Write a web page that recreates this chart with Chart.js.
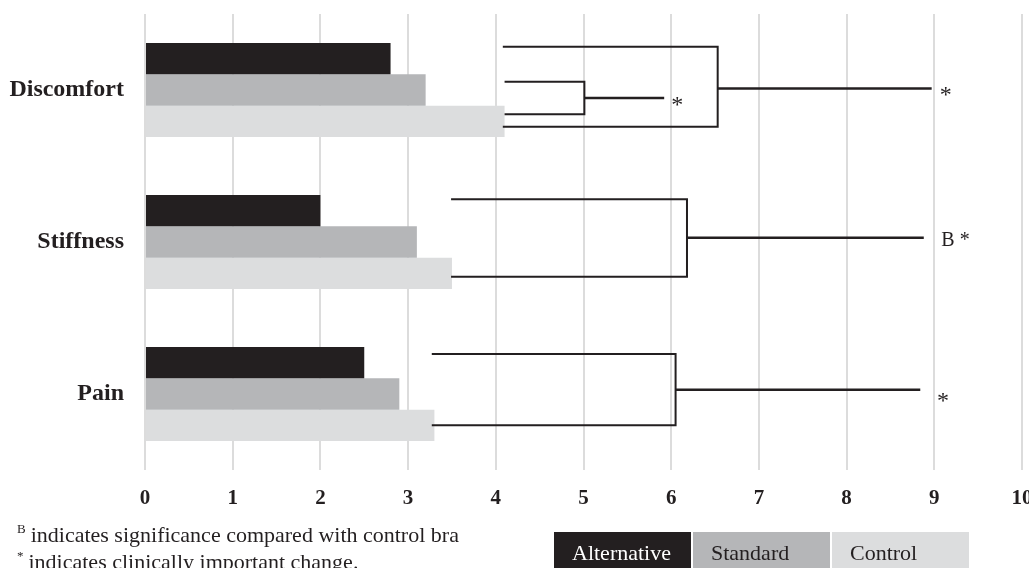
<!DOCTYPE html>
<html>
<head>
<meta charset="utf-8">
<script src="https://cdn.jsdelivr.net/npm/chart.js@4.4.0/dist/chart.umd.min.js"></script>
<style>
  body { margin: 0; background: #fff; overflow: hidden; }
  #page { position: relative; width: 1029px; height: 568px; overflow: hidden; font-family: "Liberation Serif", serif; color: #231f20; }
  #chart { position: absolute; left: 0; top: 0; }
  .note { position: absolute; left: 17px; font-size: 22px; line-height: 22px; white-space: nowrap; }
  .note sup { font-size: 13px; vertical-align: 9px; margin-right: 5px; }
  #legend { position: absolute; left: 554px; top: 532px; display: flex; }
  .key { width: 119px; height: 40px; padding: 10px 0 0 18px; box-sizing: content-box; margin-right: 2px; font-size: 22px; line-height: 22px; }
</style>
</head>
<body>
<div id="page">
  <canvas id="chart" width="1029" height="568"></canvas>
  <div class="note" style="top:518px"><sup>B</sup>indicates significance compared with control bra</div>
  <div class="note" style="top:545px"><sup>*</sup>indicates clinically important change.</div>
  <div id="legend"></div>
</div>
<script>
// chart values
const categories = ['Discomfort', 'Stiffness', 'Pain'];
const seriesNames = ['Alternative', 'Standard', 'Control'];
const alternative = [2.8, 2.0, 2.5];
const standard = [3.2, 3.1, 2.9];
const control = [4.1, 3.5, 3.3];
const seriesColors = ['#231f20', '#b5b6b8', '#dcddde'];
const legendText = ['#ffffff', '#231f20', '#231f20'];

// x axis runs 0..10 in steps of 1
const xMin = 0;
const xMax = 10;
const xStep = 1;

// comparison brackets (category index, offsets in category units, x in data units)
const bracketCat = [0, 0, 1, 2];
const bracketLeft = [4.08, 4.1, 3.49, 3.27];
const bracketTop = [-0.284, -0.054, -0.281, -0.263];
const bracketBottom = [0.242, 0.159, 0.228, 0.206];
const bracketJoin = [6.53, 5.01, 6.18, 6.05];
const bracketMid = [-0.010, 0.052, -0.028, -0.028];
const bracketEnd = [8.97, 5.92, 8.88, 8.84];
const markText = ['*', '*', 'B *', '*'];
const markX = [9.13, 6.07, 9.08, 9.1];
const markY = [0.010, 0.078, -0.023, 0.024];

const ink = '#231f20';

// draws the bracket lines and their significance marks
const bracketPlugin = {
  id: 'brackets',
  afterDatasetsDraw(chart) {
    const ctx = chart.ctx;
    const xs = chart.scales.x;
    const ys = chart.scales.y;
    ctx.save();
    ctx.strokeStyle = ink;
    ctx.fillStyle = ink;
    for (let i = 0; i < bracketCat.length; i++) {
      const c = bracketCat[i];
      const l = xs.getPixelForValue(bracketLeft[i]);
      const j = xs.getPixelForValue(bracketJoin[i]);
      const t = ys.getPixelForValue(c + bracketTop[i]);
      const b = ys.getPixelForValue(c + bracketBottom[i]);
      const m = ys.getPixelForValue(c + bracketMid[i]);
      const e = xs.getPixelForValue(bracketEnd[i]);
      ctx.lineWidth = 2;
      ctx.beginPath();
      ctx.moveTo(l, t);
      ctx.lineTo(j, t);
      ctx.lineTo(j, b);
      ctx.lineTo(l, b);
      ctx.stroke();
      ctx.lineWidth = 2.5;
      ctx.beginPath();
      ctx.moveTo(j, m);
      ctx.lineTo(e, m);
      ctx.stroke();

      // mark text, centred on its ink
      const mx = xs.getPixelForValue(markX[i]);
      const my = ys.getPixelForValue(c + markY[i]);
      if (markText[i] === '*') {
        ctx.font = '24px "Liberation Serif"';
        ctx.textAlign = 'center';
      } else {
        ctx.font = '20px "Liberation Serif"';
        ctx.textAlign = 'left';
      }
      ctx.textBaseline = 'alphabetic';
      const mt = ctx.measureText(markText[i].charAt(0));
      const off = (mt.actualBoundingBoxAscent - mt.actualBoundingBoxDescent) / 2;
      ctx.fillText(markText[i], mx, my + off);
    }
    ctx.restore();
  }
};

const chart = new Chart(document.getElementById('chart'), {
  type: 'bar',
  data: {
    labels: categories,
    datasets: [
      { label: seriesNames[0], data: alternative, backgroundColor: seriesColors[0] },
      { label: seriesNames[1], data: standard, backgroundColor: seriesColors[1] },
      { label: seriesNames[2], data: control, backgroundColor: seriesColors[2] }
    ]
  },
  options: {
    indexAxis: 'y',
    responsive: false,
    animation: false,
    events: [],
    barPercentage: 1,
    categoryPercentage: 0.62,
    layout: { padding: { top: 14, right: 7, left: 0, bottom: 0 } },
    plugins: { legend: { display: false }, tooltip: { enabled: false } },
    scales: {
      x: {
        min: xMin,
        max: xMax,
        ticks: {
          stepSize: xStep,
          padding: 16,
          color: ink,
          font: { family: '"Liberation Serif"', size: 21, weight: 'bold' }
        },
        grid: { color: '#dcdcdc', lineWidth: 2, drawTicks: false },
        border: { display: false },
        afterFit(s) {
          s.height = 98;
          s.paddingLeft = 0;
          s.paddingRight = 0;
        }
      },
      y: {
        ticks: {
          padding: 21,
          color: ink,
          font: { family: '"Liberation Serif"', size: 24, weight: 'bold' }
        },
        grid: { display: false, drawTicks: false },
        border: { display: false },
        afterFit(s) {
          s.width = 145;
          s.paddingTop = 0;
          s.paddingBottom = 0;
        }
      }
    }
  },
  plugins: [bracketPlugin]
});

// legend boxes built from the series names and colours
const legend = document.getElementById('legend');
seriesNames.forEach(function (name, i) {
  const box = document.createElement('div');
  box.className = 'key';
  box.style.background = seriesColors[i];
  box.style.color = legendText[i];
  box.textContent = name;
  legend.appendChild(box);
});
</script>
</body>
</html>
